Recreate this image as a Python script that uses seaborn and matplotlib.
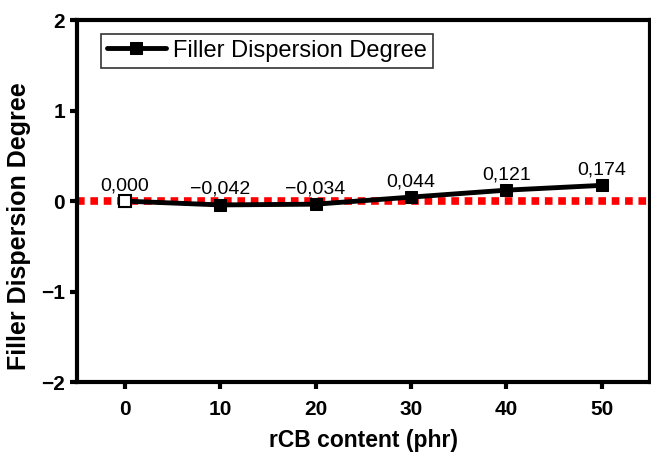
import numpy as np
import pandas as pd
import matplotlib.pyplot as plt
import seaborn as sns

# dati
rcb_content = [0, 10, 20, 30, 40, 50]
dispersion = [0.000, -0.042, -0.034, 0.044, 0.121, 0.174]
labels = ["0,000", "\u22120,042", "\u22120,034", "0,044", "0,121", "0,174"]

df = pd.DataFrame({"rCB content (phr)": rcb_content, "Filler Dispersion Degree": dispersion})

sns.set_style("ticks")
plt.rcParams["font.family"] = ["Liberation Sans", "DejaVu Sans"]
plt.rcParams["text.color"] = "black"
plt.rcParams["axes.labelcolor"] = "black"
plt.rcParams["xtick.color"] = "black"
plt.rcParams["ytick.color"] = "black"
plt.rcParams["axes.edgecolor"] = "black"

fig = plt.figure(figsize=(6.51, 4.55), dpi=100)
ax = fig.add_axes([0.118, 0.160, 0.880, 0.796])

# linea di riferimento a zero
ax.axhline(0, color="#ff0000", lw=5.5, ls=(0, (1, 0.75)), zorder=1)

sns.lineplot(data=df, x="rCB content (phr)", y="Filler Dispersion Degree", ax=ax,
             color="black", lw=3.5, marker="s", markersize=9, markeredgecolor="black",
             label="Filler Dispersion Degree", zorder=3)
# primo punto vuoto
ax.plot(rcb_content[:1], dispersion[:1], marker="s", markersize=9, color="black",
        markerfacecolor="white", markeredgewidth=1.5, ls="none", zorder=4)

for x, y, t in zip(rcb_content, dispersion, labels):
    ax.annotate(t, (x, y), xytext=(0, 5), textcoords="offset points",
                ha="center", va="bottom", fontsize=14)

ax.set_xlim(-5, 55)
ax.set_ylim(-2, 2)
ax.set_xticks(rcb_content)
ax.set_yticks([-2, -1, 0, 1, 2])
ax.set_yticklabels(["\u22122", "\u22121", "0", "1", "2"])
for s in ax.spines.values():
    s.set_linewidth(3)
    s.set_visible(True)
ax.tick_params(width=3, length=5, labelsize=15, direction="out")
ax.tick_params(axis="x", pad=8)
for lab in ax.get_xticklabels() + ax.get_yticklabels():
    lab.set_fontweight("bold")
ax.set_xlabel("rCB content (phr)", fontsize=16.5, fontweight="bold")
ax.xaxis.set_label_coords(0.5, -0.128)
ax.set_ylabel("Filler Dispersion Degree", fontsize=18, fontweight="bold")
ax.yaxis.set_label_coords(-0.08, 0.43)

leg = ax.legend(loc="upper left", fontsize=17, frameon=True, fancybox=False,
                edgecolor="black", handlelength=2.5, handletextpad=0.3, borderpad=0.25,
                borderaxespad=0, bbox_to_anchor=(0.042, 0.962))
leg.get_frame().set_linewidth(1.2)

plt.savefig("out.png", dpi=100)
